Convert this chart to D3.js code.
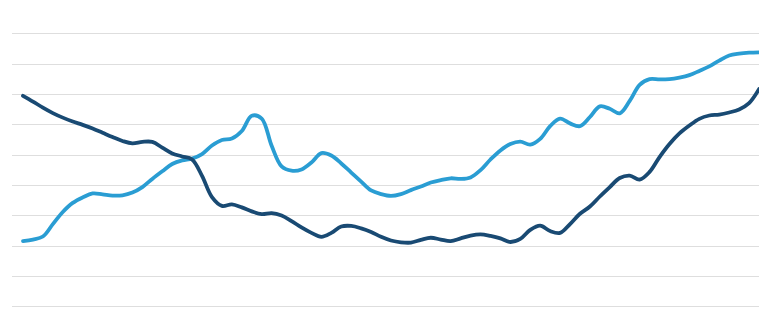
<!DOCTYPE html>
<html>
<head>
<meta charset="utf-8">
<script src="https://cdn.jsdelivr.net/npm/d3@7"></script>
<style>
  html, body { margin: 0; padding: 0; background: #ffffff; }
  svg { display: block; }
</style>
</head>
<body>
<svg id="chart" width="759" height="324"></svg>
<script>
// Series values (y axis units 0–90), one per period
const darkSeries = [
  69.4, 67.5, 65.5, 63.7, 62.2, 60.9, 59.8, 58.6, 57.2, 55.8,
  54.5, 53.7, 54.2, 54.2, 52.3, 50.4, 49.4, 48.4, 43.0, 36.0,
  33.1, 33.6, 32.6, 31.3, 30.4, 30.7, 29.9, 28.1, 26.0, 24.2,
  22.9, 24.2, 26.3, 26.5, 25.7, 24.5, 22.9, 21.7, 21.1, 21.0,
  21.9, 22.6, 22.0, 21.5, 22.4, 23.3, 23.7, 23.2, 22.4, 21.2,
  22.2, 25.2, 26.6, 24.8, 24.2, 27.1, 30.5, 32.9, 36.2, 39.3,
  42.3, 43.1, 41.8, 44.3, 49.2, 53.5, 57.0, 59.6, 61.8, 62.9,
  63.2, 63.9, 64.9, 67.0, 71.6
];
const lightSeries = [
  21.5, 22.0, 23.0, 27.1, 31.1, 34.1, 35.9, 37.2, 36.9, 36.5,
  36.6, 37.5, 39.3, 42.0, 44.5, 46.9, 48.1, 48.7, 50.2, 53.0,
  54.8, 55.3, 57.8, 62.8, 61.9, 52.9, 46.1, 44.7, 45.1, 47.4,
  50.5, 49.7, 47.1, 44.1, 41.1, 38.2, 37.0, 36.4, 37.0, 38.3,
  39.5, 40.8, 41.6, 42.2, 42.0, 42.5, 44.9, 48.4, 51.4, 53.5,
  54.3, 53.3, 55.2, 59.4, 61.9, 60.3, 59.4, 62.4, 65.9, 65.1,
  63.6, 67.7, 73.0, 74.9, 74.8, 74.9, 75.4, 76.2, 77.6, 79.1,
  81.0, 82.7, 83.3, 83.6, 83.7
];
// Gridline tick values
const gridTicks = [0, 10, 20, 30, 40, 50, 60, 70, 80, 90];
const periods = d3.range(darkSeries.length);

const W = 759, H = 324;
const svg = d3.select("#chart");

const x = d3.scaleLinear()
  .domain([0, periods.length - 1])
  .range([23, 759]);
const y = d3.scaleLinear()
  .domain([0, 90])
  .range([306.3, 33.3]);

// Gridlines
const grid = svg.append("g")
  .attr("transform", "translate(12,0)")
  .call(d3.axisLeft(y).tickValues(gridTicks).tickSize(-(W - 12)).tickFormat(""));
grid.select(".domain").remove();
grid.selectAll(".tick line")
  .attr("stroke", "#dedede")
  .attr("stroke-width", 1.2)
  .attr("shape-rendering", "crispEdges");

const line = d3.line()
  .x((d, i) => x(periods[i]))
  .y(d => y(d))
  .curve(d3.curveCatmullRom.alpha(0.5));

svg.append("path")
  .datum(lightSeries)
  .attr("d", line)
  .attr("fill", "none")
  .attr("stroke", "#2a9dd3")
  .attr("stroke-width", 3.8)
  .attr("stroke-linecap", "round")
  .attr("stroke-linejoin", "round");

svg.append("path")
  .datum(darkSeries)
  .attr("d", line)
  .attr("fill", "none")
  .attr("stroke", "#194a73")
  .attr("stroke-width", 3.8)
  .attr("stroke-linecap", "round")
  .attr("stroke-linejoin", "round");
</script>
</body>
</html>
